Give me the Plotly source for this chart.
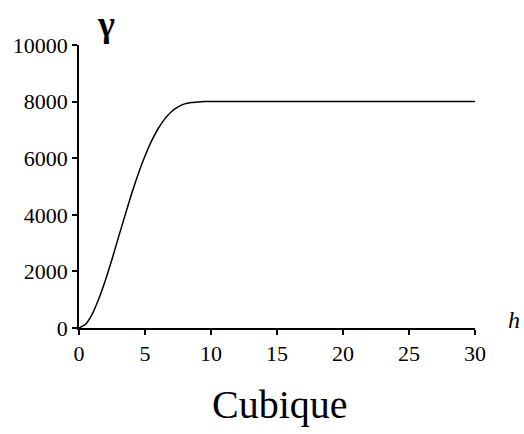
import plotly.graph_objects as go

# Cubic variogram: lag distance h and semivariance gamma
h_values = [0, 0.5, 1, 1.5, 2, 2.5, 3, 3.5, 4, 4.5, 5, 5.5, 6, 6.5, 7, 7.5, 8, 8.5, 9, 9.5, 10, 30]
gamma_values = [0, 130, 490, 1030, 1690, 2430, 3220, 4000, 4760, 5460, 6080, 6610, 7050, 7390, 7640,
                7810, 7920, 7970, 7990, 8000, 8000, 8000]

x_ticks = [0, 5, 10, 15, 20, 25, 30]
y_ticks = [0, 2000, 4000, 6000, 8000, 10000]

SERIF = "Liberation Serif"

fig = go.Figure(go.Scatter(
    x=h_values, y=gamma_values, mode="lines",
    line=dict(color="black", width=1.5, shape="spline", smoothing=0.6),
    hoverinfo="skip", showlegend=False,
))

fig.update_layout(
    width=524, height=434,
    margin=dict(l=79, r=49, t=45, b=106),
    paper_bgcolor="white", plot_bgcolor="white",
    font_family=SERIF, font_color="black",
)
for upd in (fig.update_xaxes, fig.update_yaxes):
    upd(showline=True, linecolor="black", linewidth=1.5,
        ticks="outside", ticklen=5, tickwidth=1.5, tickcolor="black",
        showgrid=False, zeroline=False, automargin=False,
        tickfont_family=SERIF, tickfont_size=22, tickfont_color="black")
fig.update_xaxes(range=[0, 30], tickmode="array", tickvals=x_ticks, ticktext=[str(v) for v in x_ticks])
fig.update_yaxes(range=[0, 10000], tickmode="array", tickvals=y_ticks, ticktext=[str(v) for v in y_ticks])

fig.add_annotation(text="<b>γ</b>", xref="paper", yref="paper", x=0.068, y=1.074,
                   xanchor="center", yanchor="middle", showarrow=False,
                   font_family=SERIF, font_size=36, font_color="black")
fig.add_annotation(text="<i>h</i>", xref="paper", yref="paper", x=1.098, y=0.03,
                   xanchor="center", yanchor="middle", showarrow=False,
                   font_family=SERIF, font_size=24, font_color="black")
fig.add_annotation(text="Cubique", xref="paper", yref="paper", x=0.508, y=-0.272,
                   xanchor="center", yanchor="middle", showarrow=False,
                   font_family=SERIF, font_size=40, font_color="black")

fig.write_html("out.html")
